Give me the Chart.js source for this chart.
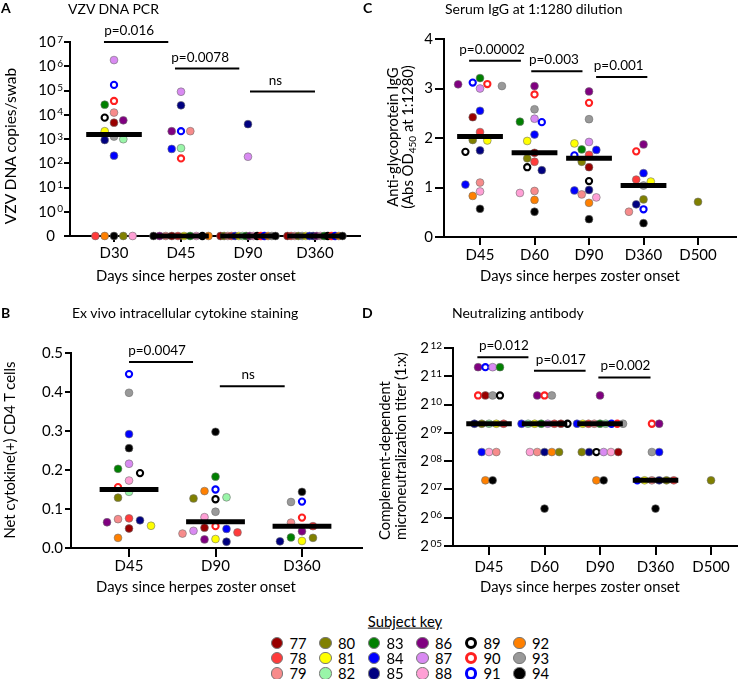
<!DOCTYPE html>
<html>
<head>
<meta charset="utf-8">
<script src="https://cdn.jsdelivr.net/npm/chart.js@4.4.1/dist/chart.umd.min.js"></script>
<style>
body{margin:0;background:#fff;font-family:Lato,sans-serif;color:#000}
#fig{position:relative;width:750px;height:679px;overflow:hidden}
canvas{position:absolute}
.t{position:absolute;white-space:nowrap;line-height:1}
.b{font-weight:bold;font-size:14px}
.l{transform:translateY(-50%)}
.m{transform:translate(-50%,-50%)}
.r{transform:translate(-50%,-50%) rotate(-90deg)}
sub{font-size:10px;line-height:0;vertical-align:-3px}
</style>
</head>
<body>
<div id="fig">
  <canvas id="cA" width="375" height="300" style="left:0;top:0"></canvas>
  <canvas id="cC" width="375" height="300" style="left:375px;top:0"></canvas>
  <canvas id="cB" width="375" height="300" style="left:0;top:300px"></canvas>
  <canvas id="cD" width="375" height="300" style="left:375px;top:300px"></canvas>

  <div class="t b" style="left:1px;top:1px">A</div>
  <div class="t b" style="left:363px;top:1px">C</div>
  <div class="t b" style="left:1px;top:306px">B</div>
  <div class="t b" style="left:362px;top:306px">D</div>

  <div class="t l" style="left:68px;top:8.5px;font-size:14px">VZV DNA PCR</div>
  <div class="t l" style="left:445px;top:8.5px;font-size:14px">Serum IgG at 1:1280 dilution</div>
  <div class="t l" style="left:72px;top:313px;font-size:14px">Ex vivo intracellular cytokine staining</div>
  <div class="t l" style="left:452px;top:313px;font-size:14px">Neutralizing antibody</div>

  <div class="t m" style="left:196px;top:275px;font-size:14.8px">Days since herpes zoster onset</div>
  <div class="t m" style="left:580px;top:275px;font-size:14.8px">Days since herpes zoster onset</div>
  <div class="t m" style="left:196px;top:586px;font-size:14.8px">Days since herpes zoster onset</div>
  <div class="t m" style="left:580px;top:586px;font-size:14.8px">Days since herpes zoster onset</div>

  <div class="t r" style="left:11px;top:146px;font-size:15.5px">VZV DNA copies/swab</div>
  <div class="t r" style="left:9px;top:450px;font-size:14.8px">Net cytokine(+) CD4 T cells</div>
  <div class="t r" style="left:399.5px;top:137px;font-size:14.8px;line-height:15px;text-align:center">Anti-glycoprotein IgG<br>(Abs OD<sub>450</sub> at 1:1280)</div>
  <div class="t" style="left:376px;top:540px;font-size:14.8px;line-height:16px;transform-origin:0 0;transform:rotate(-90deg)">Complement-dependent<br>microneutralization titer (1:x)</div>

  <div class="t m" style="left:405px;top:621px;font-size:14.8px;text-decoration:underline">Subject key</div>
  <div id="key"></div>
</div>
<script>
// subject key
const subjects = [77,78,79,80,81,82,83,84,85,86,87,88,89,90,91,92,93,94];
const subjColors = ['#990000','#ff3b3b','#f78b8b','#808000','#ffff00','#99f5a8','#008000','#0000ff','#000080',
                    '#800080','#d98af2','#ff9fd5','#000000','#ff2020','#0000ff','#ff8000','#999999','#000000'];
const openSubjects = [89,90,91];

// A - VZV DNA PCR, copies/swab  [subject, value]
const pcrCats = ['D30','D45','D90','D360'];
const pcrD30 = [[87,1.8e6],[91,1.7e5],[90,3.7e4],[83,2.6e4],[79,1.23e4],[89,7.6e3],[86,5.9e3],[77,4.7e3],[81,2.1e3],
                [93,1.26e3],[82,980],[85,910],[84,205],[78,0],[92,0],[94,0],[80,0],[88,0]];
const pcrD45 = [[87,8.9e4],[85,2.45e4],[86,2.1e3],[91,2.1e3],[79,2.1e3],[82,420],[84,390],[90,158],
                [94,0],[86,0],[79,0],[77,0],[78,0],[81,0],[83,0],[88,0],[89,0],[92,0]];
const pcrD90 = [[85,4.1e3],[87,186],[77,0],[80,0],[79,0],[78,0],[84,0],[81,0],[82,0],[83,0],[86,0],[88,0],
                [89,0],[90,0],[91,0],[92,0],[93,0],[94,0]];
const pcrD360 = [[77,0],[78,0],[79,0],[80,0],[93,0],[81,0],[84,0],[85,0],[86,0],[88,0],[83,0],[89,0],[90,0],
                 [91,0],[92,0],[94,0]];
const pcrMedian = [1550, 0, 0, 0];
const pcrTicks = [-1,0,1,2,3,4,5,6,7];
const pcrTests = [[0,1,1e7,'p=0.016'],[1,2,8e5,'p=0.0078'],[2,3,9e4,'ns']];

// C - serum IgG, OD450
const igCats = ['D45','D60','D90','D360','D500'];
const igD45 = [[83,3.21],[91,3.12],[90,3.09],[86,3.085],[93,3.05],[87,3.00],[84,2.55],[77,2.42],[78,2.12],[80,1.96],
               [81,1.95],[85,1.75],[89,1.72],[79,1.10],[84,1.06],[88,0.92],[92,0.83],[94,0.57]];
const igD60 = [[86,3.05],[90,2.88],[93,2.58],[87,2.39],[83,2.33],[91,2.32],[84,2.07],[81,1.94],[77,1.70],[80,1.59],
               [78,1.52],[89,1.41],[85,1.35],[79,0.93],[88,0.89],[92,0.75],[94,0.51]];
const igD90 = [[86,2.94],[90,2.71],[93,2.38],[87,1.92],[81,1.89],[83,1.77],[84,1.76],[78,1.66],[91,1.65],[80,1.52],
               [77,1.41],[89,1.13],[85,0.95],[84,0.94],[79,0.86],[88,0.80],[92,0.69],[94,0.36]];
const igD360 = [[86,1.87],[90,1.73],[84,1.29],[78,1.16],[81,1.12],[93,1.04],[80,0.76],[85,0.66],[91,0.56],[79,0.51],[94,0.28]];
const igD500 = [[80,0.71]];
const igMedian = [2.03, 1.70, 1.59, 1.04, null];
const igTicks = [0,1,2,3,4];
const igTests = [[0,1,3.56,'p=0.00002'],[1,2,3.35,'p=0.003'],[2,3,3.23,'p=0.001']];

// B - ICS, net cytokine(+) CD4 T cells
const icsCats = ['D45','D90','D360'];
const icsD45 = [[91,0.446],[93,0.398],[84,0.292],[94,0.256],[87,0.216],[83,0.203],[89,0.192],[88,0.173],[90,0.156],
                [82,0.144],[80,0.129],[78,0.076],[79,0.074],[85,0.071],[86,0.066],[81,0.057],[77,0.050],[92,0.026]];
const icsD90 = [[94,0.298],[83,0.183],[91,0.150],[92,0.146],[82,0.130],[80,0.127],[89,0.125],[93,0.093],[88,0.079],
                [90,0.056],[77,0.052],[84,0.049],[87,0.044],[78,0.040],[79,0.037],[81,0.023],[86,0.022],[85,0.016]];
const icsD360 = [[94,0.144],[91,0.119],[93,0.118],[90,0.078],[79,0.065],[78,0.056],[86,0.043],[83,0.027],[80,0.026],
                 [81,0.018],[85,0.017]];
const icsMedian = [0.150, 0.067, 0.056];
const icsTicks = [0,0.1,0.2,0.3,0.4,0.5];
const icsTests = [[0,1,0.477,'p=0.0047'],[1,2,0.415,'ns']];

// D - neutralizing titer (1:x)
const ntCats = ['D45','D60','D90','D360','D500'];
const ntD45 = [[86,2560],[91,2560],[87,2560],[83,2560],[90,1280],[77,1280],[93,1280],[89,1280],
               [85,640],[80,640],[82,640],[81,640],[78,640],[84,320],[88,320],[79,320],[92,160],[94,160]];
const ntD60 = [[86,1280],[90,1280],[93,1280],[84,640],[82,640],[81,640],[83,640],[87,640],[78,640],[77,640],[89,640],
               [88,320],[79,320],[85,320],[92,320],[80,320],[94,80]];
const ntD90 = [[86,1280],[84,640],[81,640],[78,640],[79,640],[83,640],[82,640],[91,640],[90,640],[93,640],
               [80,320],[85,320],[89,320],[87,320],[88,320],[77,320],[92,160],[94,160]];
const ntD360 = [[90,640],[86,640],[93,320],[84,320],[91,160],[81,160],[79,160],[85,160],[80,160],[78,160],[94,80]];
const ntD500 = [[80,160]];
const ntMedian = [640, 640, 640, 160, null];
const ntTicks = [5,6,7,8,9,10,11,12];
const ntTests = [[0,1,3260,'p=0.012'],[1,2,2350,'p=0.017'],[2,3,1990,'p=0.002']];

Chart.defaults.font.family = 'Lato, sans-serif';
Chart.defaults.color = '#000';
const W = 375, H = 300;

function isOpen(s){ return openSubjects.includes(s); }
function colorOf(s){ return subjColors[subjects.indexOf(s)]; }

function makePanel(id, cfg) {
  const pts = [];
  cfg.groups.forEach((g, c) => g.forEach(r => pts.push({x: c, y: cfg.tf(r[1]), s: r[0], c: c})));

  const sets = [{
    data: pts, clip: false, order: 1,
    pointRadius: ctx => ctx.raw && isOpen(ctx.raw.s) ? 3.1 : 3.9,
    pointHoverRadius: ctx => ctx.raw && isOpen(ctx.raw.s) ? 3.1 : 3.9,
    pointBackgroundColor: ctx => !ctx.raw ? '#000' : isOpen(ctx.raw.s) ? '#fff' : colorOf(ctx.raw.s),
    pointBorderColor: ctx => !ctx.raw ? '#000' : isOpen(ctx.raw.s) ? colorOf(ctx.raw.s) : '#707070',
    pointBorderWidth: ctx => ctx.raw && isOpen(ctx.raw.s) ? 2.1 : 0.6
  }];
  cfg.medians.forEach((m, c) => {
    if (m == null) return;
    sets.push({data: [{x: c - cfg.mw, y: cfg.tf(m)}, {x: c + cfg.mw, y: cfg.tf(m)}],
      showLine: true, borderColor: '#000', borderWidth: 5, borderCapStyle: 'butt',
      pointRadius: 0, clip: false, order: 0});
  });

  // p-value bars and power-of tick labels
  const deco = {
    id: 'deco' + id,
    afterDraw(chart) {
      const ctx = chart.ctx, xs = chart.scales.x, ys = chart.scales.y, ca = chart.chartArea;
      ctx.save();
      ctx.fillStyle = '#000'; ctx.strokeStyle = '#000';
      ctx.lineWidth = 2;
      ctx.font = '13.5px Lato'; ctx.textAlign = 'center'; ctx.textBaseline = 'alphabetic';
      cfg.tests.forEach(([i, j, v, txt], k) => {
        const x1 = xs.getPixelForValue(i + cfg.bx[k][0]), x2 = xs.getPixelForValue(j + cfg.bx[k][1]);
        const y = ys.getPixelForValue(cfg.tf(v));
        ctx.beginPath(); ctx.moveTo(x1, y); ctx.lineTo(x2, y); ctx.stroke();
        ctx.fillText(txt, (x1 + x2) / 2 + cfg.tShift, y - 7);
      });
      if (cfg.power) {
        const P = cfg.power;
        ys.ticks.forEach(t => {
          const py = ys.getPixelForValue(t.value);
          ctx.textAlign = 'right';
          if (t.value === P.zeroAt) {
            ctx.font = '15px Lato'; ctx.textBaseline = 'middle';
            ctx.fillText('0', ca.left - P.zeroRight, py);
            return;
          }
          const e = P.fmt(t.value);
          const xr = ca.left - P.expRight;
          ctx.font = '10px Lato'; ctx.textBaseline = 'alphabetic';
          ctx.fillText(e, xr, py + 0.5);
          const w = ctx.measureText(e).width;
          ctx.font = '15px Lato'; ctx.textBaseline = 'middle';
          ctx.fillText(P.base, xr - w - 1.5, py);
        });
      }
      ctx.restore();
    }
  };

  const chart = new Chart(document.getElementById(id), {
    type: 'scatter',
    data: {datasets: sets},
    options: {
      responsive: false, animation: false, events: [],
      layout: {padding: {left: 0, right: W - cfg.area.r, top: cfg.area.t, bottom: 0}},
      plugins: {legend: {display: false}, tooltip: {enabled: false}},
      scales: {
        x: {
          type: 'linear', min: cfg.xmin, max: cfg.xmax,
          afterBuildTicks: s => { s.ticks = cfg.cats.map((c, i) => ({value: i})); },
          afterFit: s => { s.height = H - cfg.area.b; },
          ticks: {callback: v => cfg.cats[v], autoSkip: false, maxRotation: 0, padding: cfg.xpad,
                  font: {size: 15}, color: '#000'},
          grid: {drawOnChartArea: false, tickLength: cfg.xtl, color: '#000', lineWidth: 2},
          border: {display: true, color: '#000', width: 2}
        },
        y: {
          type: 'linear', min: cfg.ymin, max: cfg.ymax,
          afterBuildTicks: s => { s.ticks = cfg.yticks.map(v => ({value: v})); },
          afterFit: s => { s.width = cfg.area.l; },
          ticks: {callback: cfg.power ? () => '' : cfg.yfmt, padding: 2, font: {size: 15}, color: '#000'},
          grid: {drawOnChartArea: false, tickLength: cfg.ytl, color: '#000', lineWidth: 2},
          border: {display: true, color: '#000', width: 2}
        }
      }
    },
    plugins: [deco]
  });

  // spread overlapping points sideways (equal values in centred rows, others greedy)
  const xs = chart.scales.x, ys = chart.scales.y;
  const pxCat = xs.getPixelForValue(1) - xs.getPixelForValue(0);
  cfg.groups.forEach((g, c) => {
    const list = pts.filter(p => p.c === c);
    const counts = {}, rowIdx = {}, placed = [];
    list.forEach(p => { counts[p.y] = (counts[p.y] || 0) + 1; });
    list.forEach(p => {
      const n = counts[p.y];
      if (n < 2) return;
      const k = rowIdx[p.y] = (rowIdx[p.y] === undefined ? 0 : rowIdx[p.y] + 1);
      const st = Math.min(cfg.step, cfg.span / (n - 1));
      p.off = (k - (n - 1) / 2) * st;
      placed.push({o: p.off, py: ys.getPixelForValue(p.y)});
    });
    list.forEach(p => {
      if (counts[p.y] > 1) return;
      const py = ys.getPixelForValue(p.y);
      for (let k = 0; k < 20; k++) {
        const o = (k % 2 ? -1 : 1) * Math.ceil(k / 2) * cfg.step;
        if (placed.every(q => Math.hypot(o - q.o, py - q.py) >= cfg.d)) { p.off = o; break; }
      }
      placed.push({o: p.off, py: py});
    });
    list.forEach(p => { p.x = c + p.off / pxCat; });
  });
  chart.data.datasets[0].data = pts.map(p => ({x: p.x, y: p.y, s: p.s}));
  chart.update();
  return chart;
}

makePanel('cA', {
  cats: pcrCats, groups: [pcrD30, pcrD45, pcrD90, pcrD360], medians: pcrMedian, tests: pcrTests,
  tf: v => v > 0 ? Math.log10(v) : -1, yticks: pcrTicks,
  area: {l: 70, r: 360, t: 42, b: 236}, xmin: -0.657, xmax: 3.672, ymin: -1, ymax: 7,
  xtl: 6, ytl: 6, xpad: 2.5, mw: 0.415, step: 9.3, d: 8.5, span: 55,
  bx: [[-0.15, -0.19], [-0.09, -0.13], [0.03, 0]], tShift: -7,
  power: {base: '10', zeroAt: -1, zeroRight: 15, expRight: 7, fmt: v => String(v)}
});
makePanel('cC', {
  cats: igCats, groups: [igD45, igD60, igD90, igD360, igD500], medians: igMedian, tests: igTests,
  tf: v => v, yticks: igTicks, yfmt: v => String(v),
  area: {l: 69, r: 361, t: 39, b: 237}, xmin: -0.661, xmax: 4.697, ymin: 0, ymax: 4,
  xtl: 8, ytl: 9, xpad: 1, mw: 0.42, step: 7.3, d: 8, span: 46,
  bx: [[-0.2, -0.25], [-0.06, -0.12], [0.13, 0.07]], tShift: -3
});
makePanel('cB', {
  cats: icsCats, groups: [icsD45, icsD90, icsD360], medians: icsMedian, tests: icsTests,
  tf: v => v, yticks: icsTicks, yfmt: v => v.toFixed(1),
  area: {l: 71, r: 362, t: 53, b: 248}, xmin: -0.671, xmax: 2.694, ymin: 0, ymax: 0.5,
  xtl: 9, ytl: 6, xpad: 0.5, mw: 0.34, step: 11, d: 9.5, span: 50,
  bx: [[0, -0.26], [0.05, -0.2]], tShift: -4
});
makePanel('cD', {
  cats: ntCats, groups: [ntD45, ntD60, ntD90, ntD360, ntD500], medians: ntMedian, tests: ntTests,
  tf: v => Math.log2(v), yticks: ntTicks,
  area: {l: 78, r: 362, t: 48, b: 246}, xmin: -0.649, xmax: 4.468, ymin: 5, ymax: 12,
  xtl: 9, ytl: 9, xpad: 3.5, mw: 0.41, step: 7.3, d: 8, span: 46,
  bx: [[-0.21, -0.29], [-0.19, -0.26], [-0.03, -0.09]], tShift: 1,
  power: {base: '2', zeroAt: null, zeroRight: 0, expRight: 11, fmt: v => (v < 10 ? '0' : '') + v}
});

// subject key
const key = document.getElementById('key');
subjects.forEach((s, i) => {
  const cx = 277 + Math.floor(i / 3) * 48.5, cy = 643 + (i % 3) * 15.2;
  const dot = document.createElement('div');
  dot.style.cssText = 'position:absolute;box-sizing:border-box;width:12.5px;height:12.5px;border-radius:50%;' +
    'left:' + (cx - 6.25) + 'px;top:' + (cy - 6.25) + 'px;' +
    (isOpen(s) ? 'background:#fff;border:3px solid ' + colorOf(s) : 'background:' + colorOf(s) + ';border:1px solid #777');
  key.appendChild(dot);
  const lab = document.createElement('div');
  lab.className = 't l';
  lab.style.cssText += 'left:' + (cx + 12.5) + 'px;top:' + cy + 'px;font-size:14.8px';
  lab.textContent = s;
  key.appendChild(lab);
});
</script>
</body>
</html>
